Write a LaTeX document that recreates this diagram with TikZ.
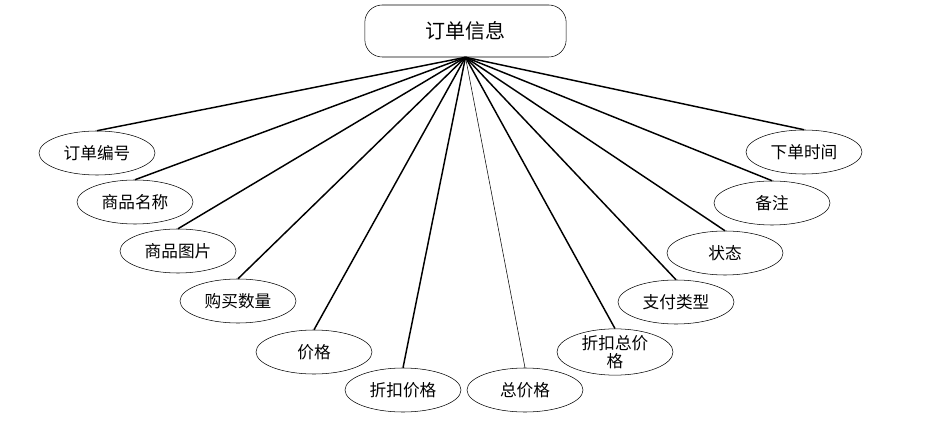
\documentclass[tikz,border=0pt]{standalone}
\usepackage{fontspec}
\setmainfont{Noto Sans CJK SC}
\usetikzlibrary{shapes.geometric}
\tikzset{
  field/.style={ellipse, draw, thin, minimum width=87pt, minimum height=33pt,
    inner sep=0pt, font=\fontsize{12.5pt}{14pt}\selectfont},
  entity/.style={rectangle, draw, rounded corners=13pt, minimum width=151pt,
    minimum height=39pt, font=\fontsize{15pt}{17pt}\selectfont},
  link/.style={line width=1.1pt},
}
\begin{document}
\begin{tikzpicture}[x=0.75pt,y=-0.75pt]
  \useasboundingbox (0,0) rectangle (935,445);

  % entity
  \node[entity] (info) at (465.5,31) {订单信息};

  % attributes
  \node[field] (bh) at (97,153) {订单编号};
  \node[field] (mc) at (135,202) {商品名称};
  \node[field] (tp) at (178,251) {商品图片};
  \node[field] (sl) at (238,301) {购买数量};
  \node[field] (jg) at (314,352) {价格};
  \node[field] (zkjg) at (403,390) {折扣价格};
  \node[field] (zjg) at (525,390) {总价格};
  \node[field, align=center, font=\fontsize{12.5pt}{13pt}\selectfont] (zkzjg) at (615,352) {折扣总价\\格};
  \node[field] (lx) at (676,302) {支付类型};
  \node[field] (zt) at (725,253) {状态};
  \node[field] (bz) at (772,203) {备注};
  \node[field] (sj) at (804,152) {下单时间};

  % links
  \foreach \f in {bh,mc,tp,sl,jg,zkjg,zkzjg,lx,zt,bz,sj}
    \draw[link] (info.south) -- (\f.north);
  \draw[thin] (info.south) -- (zjg.north);

\end{tikzpicture}
\end{document}
